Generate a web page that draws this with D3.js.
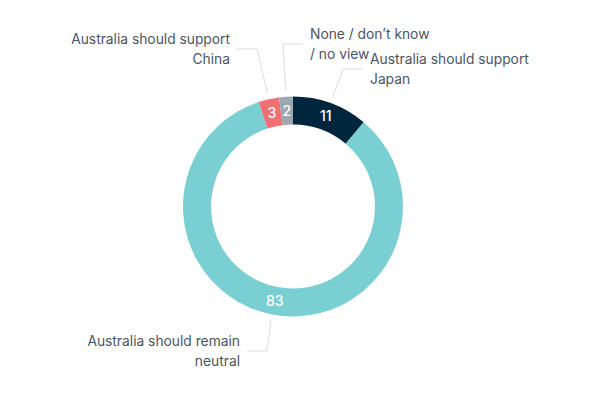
<!DOCTYPE html>
<html>
<head>
<meta charset="utf-8">
<script src="https://cdn.jsdelivr.net/npm/d3@7"></script>
<style>
	html, body { margin: 0; padding: 0; background: #fff; }
	svg { display: block; font-family: Inter, "Noto Sans", sans-serif; }
	.value { fill: #fff; font-size: 14px; font-weight: 500; }
	.label { fill: #4a5563; font-size: 13.8px; }
	.leader { fill: none; stroke: #d8dde3; stroke-width: 1; }
</style>
</head>
<body>
<svg id="chart" width="600" height="400"></svg>
<script>
// slice order runs clockwise from 12 o'clock
const categories = [
	"Australia should support Japan",
	"Australia should remain neutral",
	"Australia should support China",
	"None / don’t know / no view"
];
const values = [11, 83, 3, 2];
const labelLines = [
	["Australia should support", "Japan"],
	["Australia should remain", "neutral"],
	["Australia should support", "China"],
	["None / don’t know", "/ no view"]
];
const colors = ["#00263e", "#7acfd2", "#f07073", "#9ba8af"];

// label anchor layout (elbow point and text side), per slice
const labelLayout = [
	{ x: 343, y: 69, side: "right" },
	{ x: 267, y: 351, side: "left" },
	{ x: 257, y: 49, side: "left" },
	{ x: 283, y: 44, side: "right" }
];

class DonutPlot {
	constructor(/**SVGElement*/ container) {
		this.svgEl = d3.select(container);
		this.cx = 293;
		this.cy = 206.5;
		this.outer = 110;
		this.inner = 82;
		this.g = this.svgEl.append("g").attr("transform", `translate(${this.cx}, ${this.cy})`);
	}

	draw() {
		const data = categories.map((c, i) => ({ name: c, value: values[i], i }));
		const pie = d3.pie().sort(null).value(d => d.value);
		const arc = d3.arc().innerRadius(this.inner).outerRadius(this.outer);
		const arcs = pie(data);

		this.g.selectAll("path.slice")
			.data(arcs)
			.enter()
			.append("path")
			.classed("slice", true)
			.attr("d", arc)
			.attr("fill", d => colors[d.data.i]);

		this.g.selectAll("text.value")
			.data(arcs)
			.enter()
			.append("text")
			.classed("value", true)
			.attr("transform", d => `translate(${arc.centroid(d)})`)
			.attr("text-anchor", "middle")
			.attr("dy", "0.35em")
			.text(d => d.data.value);

		const leaderArc = d3.arc().innerRadius(this.outer + 6).outerRadius(this.outer + 6);
		const lines = this.g.append("g");
		arcs.forEach(d => {
			const lay = labelLayout[d.data.i];
			const [sx, sy] = leaderArc.centroid(d);
			const ex = lay.x - this.cx, ey = lay.y - this.cy;
			const dir = lay.side === "right" ? 1 : -1;
			lines.append("path")
				.classed("leader", true)
				.attr("d", `M${sx},${sy}L${ex},${ey}L${ex + dir * 20},${ey}`);

			const tx = ex + dir * 27;
			const text = lines.append("text")
				.classed("label", true)
				.attr("text-anchor", dir > 0 ? "start" : "end")
				.attr("x", tx)
				.attr("y", ey - 5);
			labelLines[d.data.i].forEach((line, k) => {
				text.append("tspan")
					.attr("x", tx)
					.attr("dy", k === 0 ? 0 : 20)
					.text(line);
			});
		});
	}
}

new DonutPlot(document.getElementById("chart")).draw();
</script>
</body>
</html>
